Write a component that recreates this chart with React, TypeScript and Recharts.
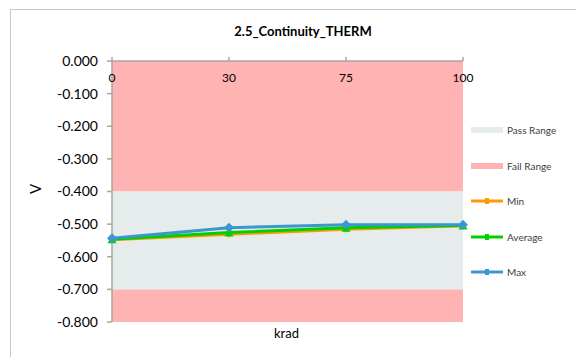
import { Area, ComposedChart, Line, XAxis, YAxis } from "recharts";

const categories = ["0", "30", "75", "100"];
const minValues = [-0.548, -0.531, -0.516, -0.505];
const averageValues = [-0.546, -0.526, -0.511, -0.504];
const maxValues = [-0.543, -0.511, -0.502, -0.502];
const passRange = [-0.7, -0.4];
const failLow = [-0.8, -0.7];
const failHigh = [-0.4, 0];
const yTicks = [0, -0.1, -0.2, -0.3, -0.4, -0.5, -0.6, -0.7, -0.8];

const PASS = "#E6EBEB";
const FAIL = "#FFB3B3";
const MIN = "#FF9900";
const AVG = "#00D000";
const MAX = "#3A98CF";
const FONT = "Lato, 'Open Sans', sans-serif";

const data = categories.map((krad, i) => ({
  krad,
  min: minValues[i],
  average: averageValues[i],
  max: maxValues[i],
  pass: passRange,
  failLow,
  failHigh,
}));

const legendItems = [
  { label: "Pass Range", color: PASS, kind: "box" },
  { label: "Fail Range", color: FAIL, kind: "box" },
  { label: "Min", color: MIN, kind: "line" },
  { label: "Average", color: AVG, kind: "line" },
  { label: "Max", color: MAX, kind: "line" },
];

function Diamond({ cx, cy, fill, r }: any) {
  if (cx == null || cy == null) return null;
  return (
    <polygon
      points={`${cx},${cy - r} ${cx + r},${cy} ${cx},${cy + r} ${cx - r},${cy}`}
      fill={fill}
    />
  );
}

function Triangle({ cx, cy, fill }: any) {
  if (cx == null || cy == null) return null;
  return (
    <polygon
      points={`${cx},${cy - 4} ${cx + 4.5},${cy + 4} ${cx - 4.5},${cy + 4}`}
      fill={fill}
    />
  );
}

// top axis, but Excel draws the labels under the zero line
function TopTick({ x, payload }: any) {
  return (
    <text
      x={x}
      y={74}
      textAnchor="middle"
      fontSize={12}
      fontFamily={FONT}
      fill="#000"
    >
      {payload.value}
    </text>
  );
}

export default function App() {
  return (
    <div
      style={{
        position: "relative",
        width: 576,
        height: 349,
        overflow: "hidden",
        fontFamily: FONT,
      }}
    >
      <div
        style={{
          position: "absolute",
          left: 2,
          top: 1,
          width: 700,
          height: 500,
          border: "1px solid #C8C8C8",
        }}
      />
      <div
        style={{
          position: "absolute",
          left: 0,
          width: 590,
          top: 15,
          textAlign: "center",
          fontWeight: "bold",
          fontSize: 13,
        }}
      >
        2.5_Continuity_THERM
      </div>
      <div
        style={{
          position: "absolute",
          left: 22,
          top: 172,
          fontSize: 15,
          transform: "rotate(-90deg)",
        }}
      >
        V
      </div>
      <div
        style={{
          position: "absolute",
          left: 266,
          top: 317,
          fontSize: 13,
        }}
      >
        krad
      </div>
      <div style={{ position: "absolute", left: 0, top: 0 }}>
        <ComposedChart
          width={576}
          height={349}
          data={data}
          margin={{ top: 33, right: 121, bottom: 35, left: 0 }}
        >
          <Area
            dataKey="failHigh"
            type="linear"
            stroke="none"
            fill={FAIL}
            fillOpacity={1}
            isAnimationActive={false}
          />
          <Area
            dataKey="pass"
            type="linear"
            stroke="none"
            fill={PASS}
            fillOpacity={1}
            isAnimationActive={false}
          />
          <Area
            dataKey="failLow"
            type="linear"
            stroke="none"
            fill={FAIL}
            fillOpacity={1}
            isAnimationActive={false}
          />
          <XAxis
            dataKey="krad"
            orientation="top"
            height={20}
            interval={0}
            tick={<TopTick />}
            tickSize={4}
            stroke="#A6A6A6"
            strokeWidth={1.5}
          />
          <YAxis
            domain={[-0.8, 0]}
            ticks={yTicks}
            interval={0}
            width={104}
            tickFormatter={(v: number) => v.toFixed(3)}
            tick={{ fontSize: 14, fill: "#000", fontFamily: FONT }}
            tickSize={5}
            tickMargin={9}
            stroke="#A6A6A6"
            strokeWidth={1.5}
          />
          <Line
            dataKey="min"
            type="linear"
            stroke={MIN}
            strokeWidth={3}
            dot={(p: any) => <Diamond key={`mi${p.index}`} {...p} r={3.5} fill={MIN} />}
            activeDot={false}
            isAnimationActive={false}
          />
          <Line
            dataKey="average"
            type="linear"
            stroke={AVG}
            strokeWidth={3}
            dot={(p: any) => <Triangle key={`av${p.index}`} {...p} fill={AVG} />}
            activeDot={false}
            isAnimationActive={false}
          />
          <Line
            dataKey="max"
            type="linear"
            stroke={MAX}
            strokeWidth={3}
            dot={(p: any) => <Diamond key={`mx${p.index}`} {...p} r={5} fill={MAX} />}
            activeDot={false}
            isAnimationActive={false}
          />
        </ComposedChart>
      </div>
      {legendItems.map((item, i) => (
        <div
          key={item.label}
          style={{
            position: "absolute",
            left: 463,
            top: 115 + i * 35.5,
            display: "flex",
            alignItems: "center",
            fontSize: 10,
            height: 14,
          }}
        >
          <svg width={35} height={10} style={{ marginRight: 1 }}>
            {item.kind === "box" ? (
              <rect x={0} y={2} width={32} height={6} fill={item.color} />
            ) : (
              <g>
                <line x1={0} x2={32} y1={5} y2={5} stroke={item.color} strokeWidth={3} />
                <rect x={14} y={2} width={4} height={6} fill={item.color} />
              </g>
            )}
          </svg>
          <span style={{ color: "#404040" }}>{item.label}</span>
        </div>
      ))}
    </div>
  );
}
